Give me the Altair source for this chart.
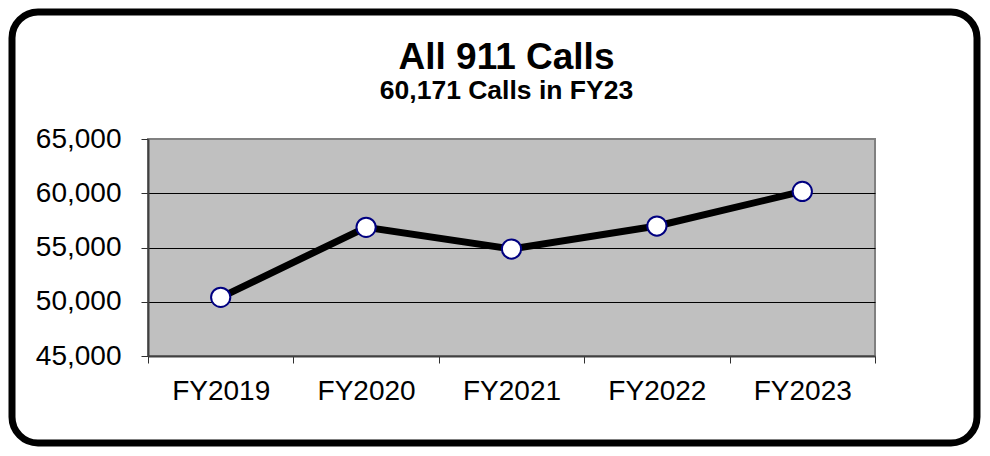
import altair as alt
import pandas as pd

years = ["FY2019", "FY2020", "FY2021", "FY2022", "FY2023"]
calls = [50410, 56860, 54860, 56980, 60171]
y_ticks = [45000, 50000, 55000, 60000, 65000]

df = pd.DataFrame({"year": years, "calls": calls})
frame_df = pd.DataFrame({"k": [0]})

FONT = "Liberation Sans"

x_enc = alt.X(
    "year:N",
    sort=years,
    scale=alt.Scale(type="band", paddingInner=0, paddingOuter=0),
    axis=alt.Axis(
        title=None,
        labelAngle=0,
        labelFont=FONT,
        labelFontSize=28,
        labelColor="black",
        labelPadding=14,
        tickBand="extent",
        tickSize=7,
        tickColor="#303030",
        domainColor="#404040",
        domainWidth=2,
        grid=False,
    ),
)
y_enc = alt.Y(
    "calls:Q",
    scale=alt.Scale(domain=[45000, 65000], nice=False, zero=False),
    axis=alt.Axis(
        title=None,
        values=y_ticks,
        format=",.0f",
        labelFont=FONT,
        labelFontSize=28,
        labelColor="black",
        labelPadding=20,
        tickSize=7,
        tickColor="#303030",
        domainColor="#404040",
        domainWidth=2,
        gridColor="black",
        gridWidth=1,
        gridOpacity=alt.condition(
            "datum.value === 65000 || datum.value === 45000", alt.value(0), alt.value(1)
        ),
    ),
)

line = alt.Chart(df).mark_line(color="black", strokeWidth=7).encode(x=x_enc, y=y_enc)
pts = alt.Chart(df).mark_point(
    filled=True, fill="white", stroke="#000080", strokeWidth=2, size=370, opacity=1
).encode(x=x_enc, y=y_enc)

border = alt.Chart(frame_df).mark_rect(
    fillOpacity=0, stroke="black", strokeWidth=7, cornerRadius=26, clip=False
).encode(
    x=alt.value(-136), x2=alt.value(829), y=alt.value(-127), y2=alt.value(304)
)

chart = (
    alt.layer(line, pts, border)
    .properties(
        width=727,
        height=217,
        autosize=alt.AutoSizeParams(type="none"),
        padding={"left": 140, "top": 131, "right": 107, "bottom": 92},
        title=alt.TitleParams(
            text="All 911 Calls",
            subtitle="60,171 Calls in FY23",
            font=FONT,
            fontSize=37,
            fontWeight="bold",
            color="black",
            subtitleFont=FONT,
            subtitleFontSize=26.5,
            subtitleFontWeight="bold",
            subtitleColor="black",
            subtitlePadding=1,
            anchor="middle",
            dx=-5,
            offset=-97,
        ),
    )
    .configure_view(fill="#C0C0C0", stroke="#808080", strokeWidth=2)
)

chart.save("out.html", embed_options={"renderer": "svg", "actions": False})
